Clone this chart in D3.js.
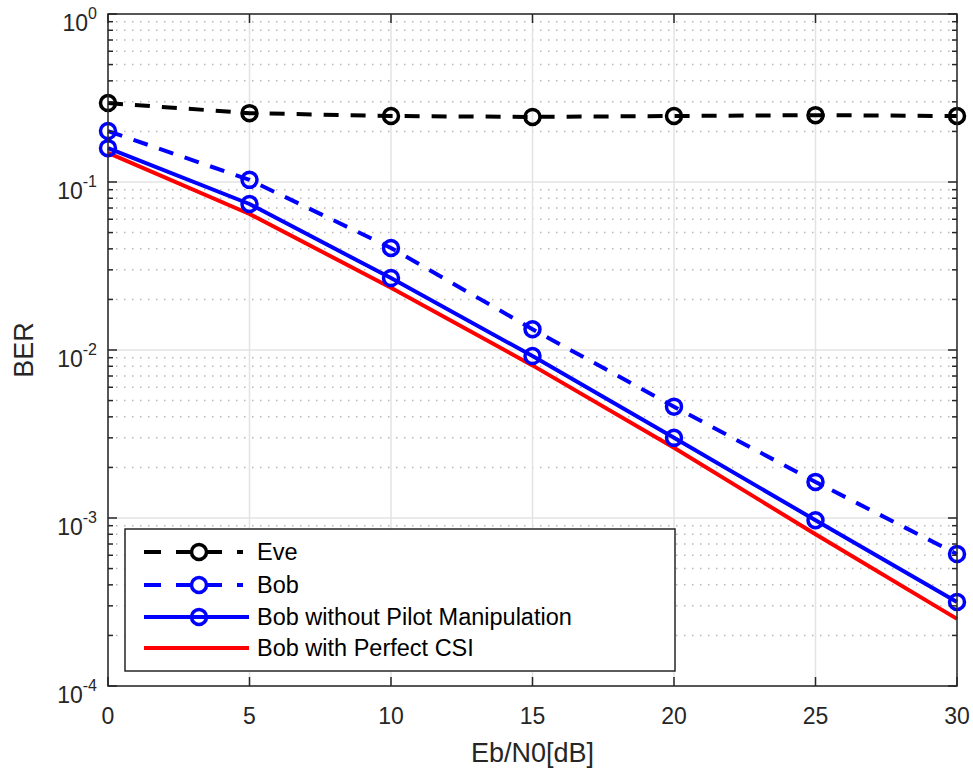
<!DOCTYPE html>
<html>
<head>
<meta charset="utf-8">
<script src="https://cdn.jsdelivr.net/npm/d3@7"></script>
<style>
  body { margin: 0; background: #fff; }
  svg { font-family: "Liberation Sans", Arial, Helvetica, sans-serif; }
</style>
</head>
<body>
<script>
var width = 973;
var height = 769;

// data
var snr = [0, 5, 10, 15, 20, 25, 30];
var eve = [0.295, 0.257, 0.247, 0.244, 0.247, 0.25, 0.247];
var bob = [0.201, 0.103, 0.0405, 0.0133, 0.0046, 0.00164, 0.00061];
var bobNoPilot = [0.159, 0.074, 0.0268, 0.0092, 0.003, 0.00097, 0.000316];
var bobPerfect = [0.149, 0.0645, 0.0235, 0.0081, 0.00262, 0.0008, 0.000251];
var xTicks = [0, 5, 10, 15, 20, 25, 30];
var yExps = [0, -1, -2, -3, -4];

var series = [
  {name: "Eve", values: eve, color: "#000", dash: "15,12", marker: true},
  {name: "Bob", values: bob, color: "#0000ff", dash: "15,12", marker: true},
  {name: "Bob without Pilot Manipulation", values: bobNoPilot, color: "#0000ff", dash: null, marker: true},
  {name: "Bob with Perfect CSI", values: bobPerfect, color: "#ff0000", dash: null, marker: false}
];

var pLeft = 108, pRight = 957, pTop = 14, pBottom = 686;

var x = d3.scaleLinear().domain([0, 30]).range([pLeft, pRight]);
var y = d3.scaleLog().domain([1e-4, 1]).range([pBottom, pTop]);

var svg = d3.select("body").append("svg")
  .attr("width", width)
  .attr("height", height);

// minor grid (dotted)
var minors = [];
for (var e = -4; e < 0; e++) {
  for (var m = 2; m <= 9; m++) minors.push(m * Math.pow(10, e));
}
svg.append("g").selectAll("line")
  .data(minors).enter().append("line")
  .attr("x1", pLeft).attr("x2", pRight)
  .attr("y1", function(d) { return y(d); })
  .attr("y2", function(d) { return y(d); })
  .style("stroke", "#b8b8b8")
  .style("stroke-width", 1.5)
  .style("stroke-dasharray", "1.5,6.5");

// major grid
svg.append("g").selectAll("line")
  .data(yExps).enter().append("line")
  .attr("x1", pLeft).attr("x2", pRight)
  .attr("y1", function(d) { return y(Math.pow(10, d)); })
  .attr("y2", function(d) { return y(Math.pow(10, d)); })
  .style("stroke", "#e3e3e3")
  .style("stroke-width", 1.5);
svg.append("g").selectAll("line")
  .data(xTicks).enter().append("line")
  .attr("y1", pTop).attr("y2", pBottom)
  .attr("x1", function(d) { return x(d); })
  .attr("x2", function(d) { return x(d); })
  .style("stroke", "#e3e3e3")
  .style("stroke-width", 1.5);

// series
var line = d3.line()
  .x(function(d, i) { return x(snr[i]); })
  .y(function(d) { return y(d); });

series.slice().reverse().forEach(function(s) {
  svg.append("path")
    .datum(s.values)
    .attr("d", line)
    .style("fill", "none")
    .style("stroke", s.color)
    .style("stroke-width", 4)
    .style("stroke-dasharray", s.dash);
  if (s.marker) {
    svg.append("g").selectAll("circle")
      .data(s.values).enter().append("circle")
      .attr("cx", function(d, i) { return x(snr[i]); })
      .attr("cy", function(d) { return y(d); })
      .attr("r", 7.5)
      .style("fill", "none")
      .style("stroke", s.color)
      .style("stroke-width", 3.5);
  }
});

// axes box and ticks
var ax = svg.append("g").style("stroke", "#262626").style("stroke-width", 1.5);
ax.append("rect")
  .attr("x", pLeft).attr("y", pTop)
  .attr("width", pRight - pLeft).attr("height", pBottom - pTop)
  .style("fill", "none");

xTicks.forEach(function(t) {
  ax.append("line").attr("x1", x(t)).attr("x2", x(t)).attr("y1", pBottom).attr("y2", pBottom - 9);
  ax.append("line").attr("x1", x(t)).attr("x2", x(t)).attr("y1", pTop).attr("y2", pTop + 9);
});
yExps.forEach(function(t) {
  var yy = y(Math.pow(10, t));
  ax.append("line").attr("x1", pLeft).attr("x2", pLeft + 9).attr("y1", yy).attr("y2", yy);
  ax.append("line").attr("x1", pRight).attr("x2", pRight - 9).attr("y1", yy).attr("y2", yy);
});
minors.forEach(function(t) {
  var yy = y(t);
  ax.append("line").attr("x1", pLeft).attr("x2", pLeft + 5).attr("y1", yy).attr("y2", yy);
  ax.append("line").attr("x1", pRight).attr("x2", pRight - 5).attr("y1", yy).attr("y2", yy);
});

// tick labels
svg.append("g").selectAll("text")
  .data(xTicks).enter().append("text")
  .attr("x", function(d) { return x(d); })
  .attr("y", 724)
  .attr("text-anchor", "middle")
  .style("font-size", "23px")
  .style("fill", "#262626")
  .text(function(d) { return d; });

var yl = svg.append("g").selectAll("text")
  .data(yExps).enter().append("text")
  .attr("x", 97)
  .attr("y", function(d) { return y(Math.pow(10, d)) + 17; })
  .attr("text-anchor", "end")
  .style("font-size", "23px")
  .style("fill", "#262626");
yl.append("tspan").text("10");
yl.append("tspan")
  .attr("dy", -12)
  .style("font-size", "16px")
  .text(function(d) { return d; });

// axis titles
svg.append("text")
  .attr("x", (pLeft + pRight) / 2)
  .attr("y", 762)
  .attr("text-anchor", "middle")
  .style("font-size", "27px")
  .style("fill", "#262626")
  .text("Eb/N0[dB]");
svg.append("text")
  .attr("transform", "translate(33," + (pTop + pBottom) / 2 + ") rotate(-90)")
  .attr("text-anchor", "middle")
  .style("font-size", "27px")
  .style("fill", "#262626")
  .text("BER");

// legend
var lg = svg.append("g");
lg.append("rect")
  .attr("x", 125).attr("y", 529)
  .attr("width", 550).attr("height", 142)
  .style("fill", "#fff")
  .style("stroke", "#262626")
  .style("stroke-width", 1.5);

var rowY = [552, 585, 617, 648];
series.forEach(function(s, i) {
  var ry = rowY[i];
  lg.append("line")
    .attr("x1", 144).attr("x2", 249)
    .attr("y1", ry).attr("y2", ry)
    .style("stroke", s.color)
    .style("stroke-width", 4)
    .style("stroke-dasharray", s.dash ? "17,15,46,15,6,20" : null);
  if (s.marker) {
    lg.append("circle")
      .attr("cx", 199).attr("cy", ry).attr("r", 7.5)
      .style("fill", s.dash ? "#fff" : "none")
      .style("stroke", s.color)
      .style("stroke-width", 3.5);
  }
  lg.append("text")
    .attr("x", 257).attr("y", ry + 8)
    .style("font-size", "23.5px")
    .style("fill", "#000")
    .text(s.name);
});
</script>
</body>
</html>
